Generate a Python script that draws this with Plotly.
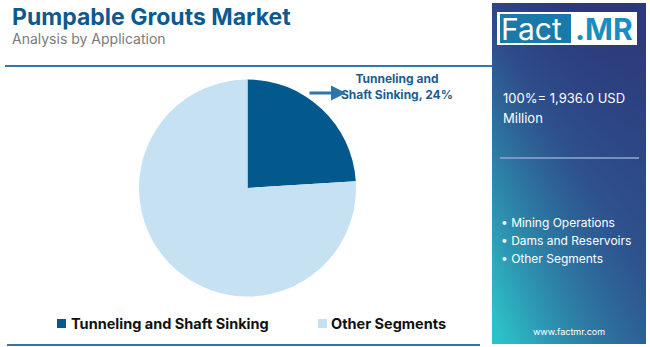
import plotly.graph_objects as go
import base64

labels = ["Tunneling and Shaft Sinking", "Other Segments"]
values = [24, 76]
colors = ["#03588C", "#C5E1F2"]
title = "Pumpable Grouts Market"
subtitle = "Analysis by Application"
total_text = ["100%= 1,936.0 USD", "Million"]
bullets = ["Mining Operations", "Dams and Reservoirs", "Other Segments"]

W, H = 650, 347
def px(x):
    return x / W
def py(y):
    return 1 - y / H

fig = go.Figure()
fig.add_trace(go.Pie(
    labels=labels, values=values, sort=False, direction="clockwise", rotation=0,
    marker=dict(colors=colors, line=dict(width=0)),
    textinfo="none", hoverinfo="label+percent", showlegend=False,
    domain=dict(x=[px(139), px(356)], y=[py(296.5), py(79.5)]),
))

svg = ('<svg xmlns="http://www.w3.org/2000/svg" width="154" height="341" preserveAspectRatio="none">'
       '<defs><linearGradient id="g" x1="0.85" y1="0" x2="0.1" y2="1">'
       '<stop offset="0" stop-color="#2A1764"/>'
       '<stop offset="0.45" stop-color="#2E4A8A"/>'
       '<stop offset="1" stop-color="#2CC2C9"/>'
       '</linearGradient>'
       '<linearGradient id="h" x1="0" y1="0" x2="1" y2="0">'
       '<stop offset="0" stop-color="#2E6A9A" stop-opacity="0"/>'
       '<stop offset="1" stop-color="#2E5E94" stop-opacity="0.5"/>'
       '</linearGradient></defs>'
       '<rect width="154" height="341" fill="url(#g)"/>'
       '<rect width="154" height="341" fill="url(#h)"/></svg>')
src = "data:image/svg+xml;base64," + base64.b64encode(svg.encode()).decode()

fig.add_layout_image(dict(source=src, xref="paper", yref="paper",
                          x=px(492), y=py(3), sizex=px(646) - px(492), sizey=(344 - 3) / H,
                          xanchor="left", yanchor="top", sizing="stretch", layer="below"))

shapes = []
shapes.append(dict(type="line", xref="paper", yref="paper", x0=px(5), x1=px(492), y0=py(66), y1=py(66),
                   line=dict(color="#2F78AE", width=2)))
shapes.append(dict(type="line", xref="paper", yref="paper", x0=px(7), x1=px(480), y0=py(345), y1=py(345),
                   line=dict(color="#2F78AE", width=2)))
shapes.append(dict(type="rect", xref="paper", yref="paper", x0=px(497), x1=px(637), y0=py(45), y1=py(12),
                   fillcolor="white", line=dict(width=0)))
shapes.append(dict(type="rect", xref="paper", yref="paper", x0=px(500), x1=px(571), y0=py(43), y1=py(14),
                   fillcolor="#1B79A9", line=dict(width=0)))
shapes.append(dict(type="line", xref="paper", yref="paper", x0=px(500), x1=px(639), y0=py(158), y1=py(158),
                   line=dict(color="#8FA9D4", width=1.5)))
leg_x = [57, 318]
leg_tx = [71, 331]
for i, lab in enumerate(labels):
    shapes.append(dict(type="rect", xref="paper", yref="paper", x0=px(leg_x[i]), x1=px(leg_x[i] + 9),
                       y0=py(328), y1=py(319), fillcolor=colors[i], line=dict(width=0)))
fig.update_layout(shapes=shapes)

ann = []
def txt(x, y, t, size, color, bold=False, xanchor="left", family="Inter"):
    ann.append(dict(x=px(x), y=py(y), xref="paper", yref="paper", text=("<b>%s</b>" % t) if bold else t,
                    showarrow=False, xanchor=xanchor, yanchor="middle",
                    font=dict(size=size, color=color, family=family)))

txt(10, 17, title, 23, "#0C5A8E", bold=True)
txt(10, 38, subtitle, 14, "#7A7A7A")
txt(499, 29, "Fact", 30, "white")
txt(573, 29, "<b>.MR</b>", 30, "#1A8CC4")
txt(501, 98, total_text[0], 13, "white")
txt(501, 118, total_text[1], 13, "white")
for i, b in enumerate(bullets):
    txt(499, 223 + 17.5 * i, "• " + b, 12, "white")
txt(569, 331, "www.factmr.com", 9, "white", xanchor="center")
for i, lab in enumerate(labels):
    txt(leg_tx[i] - 2, 323, lab, 14.5, "#111111", bold=True)
txt(397, 87, "%s and<br>Shaft Sinking, %d%%" % ("Tunneling", values[0]), 12, "#1A5E92", bold=True, xanchor="center")

ann.append(dict(x=px(346), y=py(93), ax=-38, ay=0, xref="paper", yref="paper",
                text="", showarrow=True, arrowhead=2, arrowsize=1, arrowwidth=3, arrowcolor="#2E75AD"))
fig.update_layout(annotations=ann)

fig.update_layout(width=W, height=H, margin=dict(l=0, r=0, t=0, b=0),
                  paper_bgcolor="white", plot_bgcolor="white", showlegend=False)
fig.write_html("out.html")
